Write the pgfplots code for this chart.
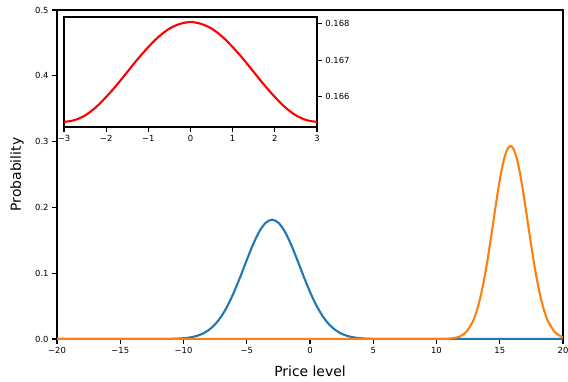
\documentclass[border=0pt]{standalone}
\usepackage{pgfplots}
\pgfplotsset{compat=1.18}
\usepackage{fontspec}
\setmainfont{DejaVu Sans}
\definecolor{mplblue}{HTML}{1F77B4}
\definecolor{mplorange}{HTML}{FF7F0E}
\begin{document}
\begin{tikzpicture}
\useasboundingbox (-57pt,-42pt) rectangle (511pt,339pt);
\begin{axis}[
  at={(0pt,0pt)}, anchor=south west,
  scale only axis, width=506pt, height=329pt,
  xmin=-20, xmax=20, ymin=0, ymax=0.5,
  xtick={-20,-15,-10,-5,0,5,10,15,20},
  xticklabels={−20,−15,−10,−5,0,5,10,15,20},
  ytick={0,0.1,0.2,0.3,0.4,0.5},
  yticklabels={0.0,0.1,0.2,0.3,0.4,0.5},
  tick pos=left, tick align=outside,
  major tick length=4.9pt,
  tick style={line width=1.1pt, black},
  axis line style={line width=1.1pt},
  tick label style={font=\fontsize{8.4}{10}\selectfont},
  xlabel={Price level}, ylabel={Probability},
  label style={font=\fontsize{13.9}{16}\selectfont},
  xlabel style={at={(axis description cs:0.5,-0.0973)}, anchor=center},
  ylabel style={at={(axis description cs:-0.0791,0.5)}, anchor=center},
  clip=true,
]
\addplot[mplblue, line width=2.1pt, smooth] coordinates {
(-20,0) (-14,0) (-13,0.000005) (-12,0.00004) (-11,0.00024) (-10.5,0.00054) (-10,0.00115) (-9.5,0.00231) (-9,0.00440) (-8.5,0.00797) (-8,0.01370) (-7.5,0.02238) (-7,0.03472) (-6.5,0.05115) (-6,0.07157) (-5.5,0.09508) (-5,0.11996) (-4.5,0.14373) (-4,0.16354) (-3.5,0.17672) (-3,0.18134) (-2.5,0.17672) (-2,0.16354) (-1.5,0.14373) (-1,0.11996) (-0.5,0.09508) (0,0.07157) (0.5,0.05115) (1,0.03472) (1.5,0.02238) (2,0.01370) (2.5,0.00797) (3,0.00440) (3.5,0.00231) (4,0.00115) (4.5,0.00054) (5,0.00024) (6,0.00004) (7,0.000005) (8,0) (20,0)
};
\addplot[mplorange, line width=2.1pt, smooth] coordinates {
(-20,0) (8,0) (8.85,0.000002) (9.85,0.00002) (10.35,0.00008) (10.85,0.00034) (11.35,0.00123) (11.85,0.00388) (12.35,0.01069) (12.85,0.02575) (13.1,0.03797) (13.35,0.05415) (13.6,0.07466) (13.85,0.09948) (14.1,0.12818) (14.35,0.15967) (14.6,0.19229) (14.85,0.22385) (15.1,0.25195) (15.35,0.27416) (15.6,0.28841) (15.85,0.29333) (16.1,0.28841) (16.35,0.27416) (16.6,0.25195) (16.85,0.22385) (17.1,0.19229) (17.35,0.15967) (17.6,0.12818) (17.85,0.09948) (18.1,0.07466) (18.35,0.05415) (18.6,0.03797) (18.85,0.02575) (19.35,0.01069) (19.85,0.00388) (20,0.00279)
};
\end{axis}
\begin{axis}[
  at={(7pt,322pt)}, anchor=north west,
  scale only axis, width=253pt, height=110pt,
  xmin=-3, xmax=3, ymin=0.16515, ymax=0.16819,
  axis background/.style={fill=white},
  xtick={-3,-2,-1,0,1,2,3},
  xticklabels={−3,−2,−1,0,1,2,3},
  ytick={0.166,0.167,0.168},
  yticklabels={0.166,0.167,0.168},
  xtick pos=left, ytick pos=right,
  yticklabel pos=right,
  tick align=outside,
  major tick length=4.9pt,
  tick style={line width=1.1pt, black},
  axis line style={line width=1.1pt},
  tick label style={font=\fontsize{8.4}{10}\selectfont},
]
\addplot[red, line width=2.1pt, smooth] coordinates {
(-3,0.16529) (-2.75,0.16534) (-2.5,0.16547) (-2.25,0.16569) (-2,0.16598) (-1.75,0.16631) (-1.5,0.16667) (-1.25,0.16703) (-1,0.16736) (-0.75,0.16765) (-0.5,0.16787) (-0.25,0.16800) (0,0.16805) (0.25,0.16800) (0.5,0.16787) (0.75,0.16765) (1,0.16736) (1.25,0.16703) (1.5,0.16667) (1.75,0.16631) (2,0.16598) (2.25,0.16569) (2.5,0.16547) (2.75,0.16534) (3,0.16529)
};
\end{axis}
\end{tikzpicture}
\end{document}
